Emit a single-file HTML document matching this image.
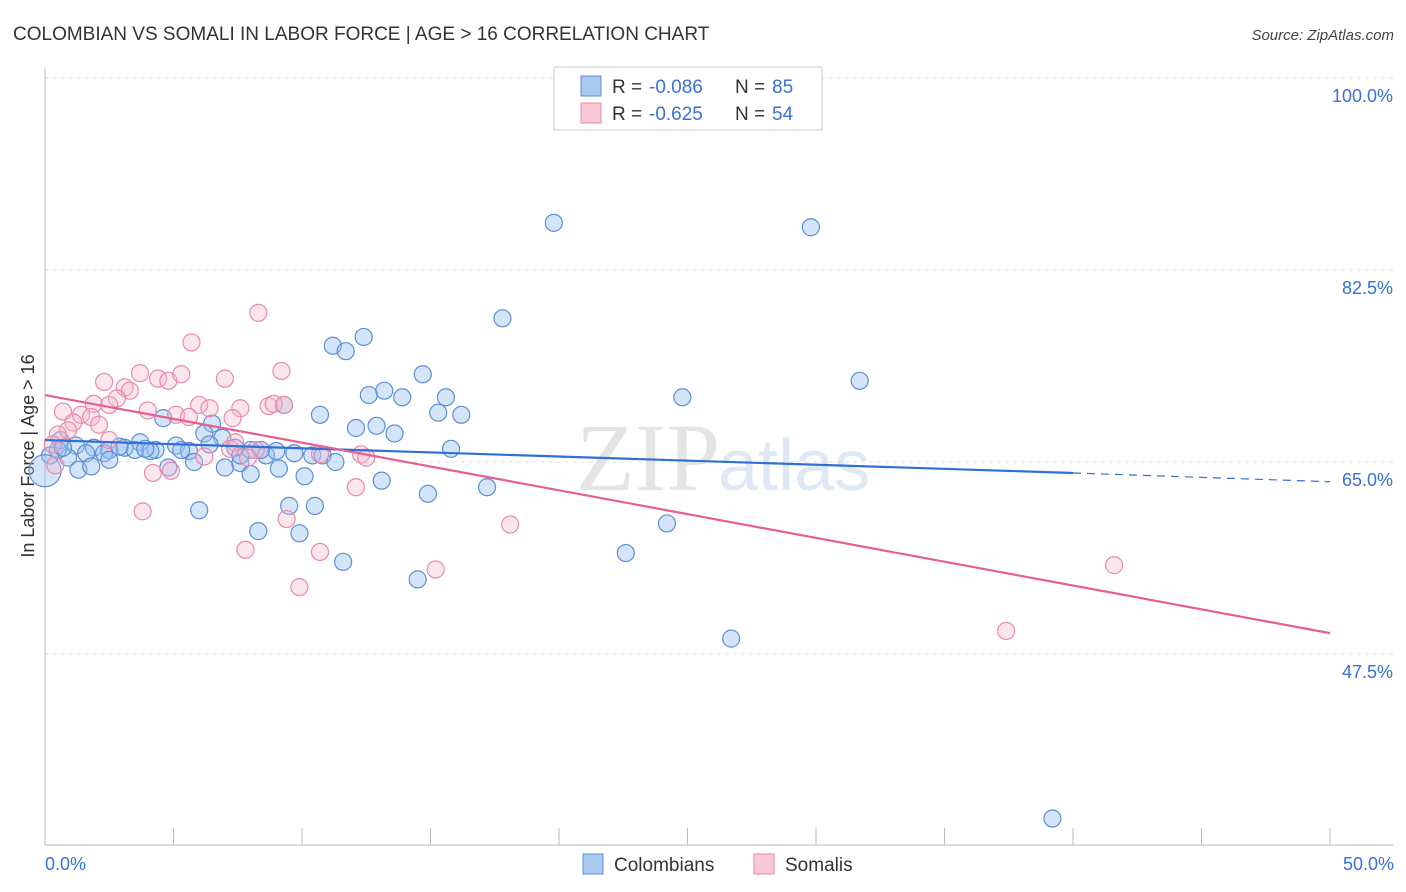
<!DOCTYPE html>
<html><head><meta charset="utf-8"><style>
body{margin:0;background:#fff;font-family:"Liberation Sans",sans-serif}
svg{display:block}
</style></head><body>
<svg id="c" width="1406" height="892"></svg>
<script>
const xTicks=[0,5,10,15,20,25,30,35,40,45,50];
const yTicks=[100,82.5,65,47.5];
const blueX=[19.8,29.8,17.8,12.4,11.2,11.7,31.7,14.7,13.2,12.6,13.9,15.6,24.8,9.3,10.7,15.3,16.2,12.1,12.9,13.6,4.6,6.5,6.2,6.9,15.8,0.6,1.2,1.9,2.5,3.1,3.7,4.3,5.1,5.6,6.4,7.4,8.0,8.6,9.0,9.7,10.4,10.8,11.3,4.1,3.5,2.9,2.3,1.6,0.9,0.5,0.2,0.0,1.3,1.8,2.5,4.8,5.8,7.0,7.6,8.0,9.1,10.1,7.6,8.4,13.1,17.2,14.9,6.0,9.5,10.5,8.3,9.9,11.6,14.5,22.6,24.2,26.7,39.2,5.3,3.9,0.7];
const blueY=[86.8,86.4,78.1,76.4,75.6,75.1,72.4,73.0,71.5,71.1,70.9,70.9,70.9,70.2,69.3,69.5,69.3,68.1,68.3,67.6,69.0,68.5,67.6,67.2,66.2,67.0,66.5,66.3,66.1,66.3,66.8,66.1,66.5,66.0,66.6,66.3,66.1,65.6,66.0,65.8,65.6,65.6,65.0,66.0,66.1,66.4,65.8,65.8,65.4,66.1,65.6,64.2,64.3,64.6,65.2,64.5,65.0,64.5,64.9,63.9,64.4,63.7,65.6,66.1,63.3,62.7,62.1,60.6,61.0,61.0,58.7,58.5,55.9,54.3,56.7,59.4,48.9,32.5,66.1,66.2,66.3];
const pinkX=[8.3,5.7,3.7,9.2,2.3,4.4,4.8,5.3,7.0,3.1,3.3,2.8,1.9,2.5,6.0,6.4,7.6,8.7,8.9,9.3,0.7,1.4,1.8,4.0,5.1,5.6,7.3,1.1,2.1,0.9,0.5,0.3,7.4,8.2,12.3,12.5,7.9,4.2,4.9,12.1,3.8,9.4,18.1,7.8,10.7,15.2,9.9,41.6,37.4,0.4,6.2,7.2,10.7,2.5];
const pinkY=[78.6,75.9,73.1,73.3,72.3,72.6,72.4,73.0,72.6,71.8,71.5,70.8,70.3,70.2,70.2,69.9,69.9,70.1,70.3,70.2,69.6,69.3,69.1,69.7,69.3,69.1,69.0,68.6,68.4,67.9,67.5,66.6,66.8,66.1,65.7,65.4,65.4,64.0,64.2,62.7,60.5,59.8,59.3,57.0,56.8,55.2,53.6,55.6,49.6,64.7,65.5,66.2,65.7,67.0];
const blueLine=[67.0,64.0,63.2];
const pinkLine=[71.1,49.4];
const X=v=>45+v*25.7, Y=v=>462-(v-65)*10.97;
const svg=document.getElementById('c'), NS='http://www.w3.org/2000/svg';
function el(t,a,txt){const e=document.createElementNS(NS,t);for(const k in a)e.setAttribute(k,a[k]);if(txt!=null)e.textContent=txt;svg.appendChild(e);return e;}
let e;
e=el('text',{x:13,y:40,'font-size':19,fill:'#333'},'COLOMBIAN VS SOMALI IN LABOR FORCE | AGE > 16 CORRELATION CHART');

e=el('text',{x:1394,y:40,'font-size':15,fill:'#444','font-style':'italic','text-anchor':'end'},'Source: ZipAtlas.com');

e=el('text',{x:720,y:490,'font-size':96,fill:'#e4e4e4','font-family':'Liberation Serif, serif','text-anchor':'end'},'ZIP');

e=el('text',{x:718,y:490,'font-size':72,fill:'#dfe8f5'},'atlas');

for(const t of yTicks){
 e=el('line',{x1:45,x2:1394,y1:Y(t),y2:Y(t),stroke:'#ddd','stroke-dasharray':'4,4'});
 
 e=el('text',{x:1393,y:Y(t)+24,'font-size':18,fill:'#3a6fd8','text-anchor':'end'},t.toFixed(1)+'%');
 
}
e=el('line',{x1:45,x2:45,y1:68,y2:845,stroke:'#bbb'});

e=el('line',{x1:45,x2:1394,y1:845,y2:845,stroke:'#bbb'});

for(const t of xTicks){
 e=el('line',{x1:X(t),x2:X(t),y1:828,y2:845,stroke:'#bbb'});
 
}
e=el('text',{x:45,y:870,'font-size':18,fill:'#3a6fd8'},'0.0%');

e=el('text',{x:1394,y:870,'font-size':18,fill:'#3a6fd8','text-anchor':'end'},'50.0%');

e=el('text',{x:34,y:456,'font-size':18,fill:'#333','text-anchor':'middle',transform:'rotate(-90 34 456)'},'In Labor Force | Age > 16');

blueX.forEach((x,i)=>{const big=i==51;
 e=el('circle',{cx:X(x),cy:Y(blueY[i]),r:big?16:8.5,fill:'rgba(150,190,240,0.4)',stroke:'#5b8fd6','stroke-width':1.2});
 });
pinkX.forEach((x,i)=>{
 e=el('circle',{cx:X(x),cy:Y(pinkY[i]),r:8.5,fill:'rgba(247,184,204,0.35)',stroke:'#e88aa8','stroke-width':1.2});
 });
e=el('line',{x1:X(0),y1:Y(blueLine[0]),x2:X(40),y2:Y(blueLine[1]),stroke:'#2f6fd6','stroke-width':2.2});

e=el('line',{x1:X(40),y1:Y(blueLine[1]),x2:X(50),y2:Y(blueLine[2]),stroke:'#2f6fd6','stroke-width':1.2,'stroke-dasharray':'8,6'});

e=el('line',{x1:X(0),y1:Y(pinkLine[0]),x2:X(50),y2:Y(pinkLine[1]),stroke:'#e6608f','stroke-width':2.2});

e=el('rect',{x:554,y:67,width:268,height:63,fill:'#fff',stroke:'#ccc'});

const leg=[['#a9c9f0','#5b8fd6','-0.086','85'],['#f9c9d8','#e88aa8','-0.625','54']];
leg.forEach((l,i)=>{const y=86+i*27;
 e=el('rect',{x:581,y:y-10,width:20,height:20,fill:l[0],stroke:l[1]});
 
 e=el('text',{x:612,y:y+7,'font-size':19,fill:'#333'},'R = ');
 
 e=el('text',{x:649,y:y+7,'font-size':19,fill:'#3a6fd8'},l[2]);
 
 e=el('text',{x:735,y:y+7,'font-size':19,fill:'#333'},'N = ');
 
 e=el('text',{x:772,y:y+7,'font-size':19,fill:'#3a6fd8'},l[3]);
 
});
[['Colombians',583,'#a9c9f0','#5b8fd6'],['Somalis',754,'#f9c9d8','#e88aa8']].forEach(l=>{
 e=el('rect',{x:l[1],y:854,width:20,height:20,fill:l[2],stroke:l[3]});
 
 e=el('text',{x:l[1]+31,y:871,'font-size':19,fill:'#333'},l[0]);
 
});
</script>
</body></html>
